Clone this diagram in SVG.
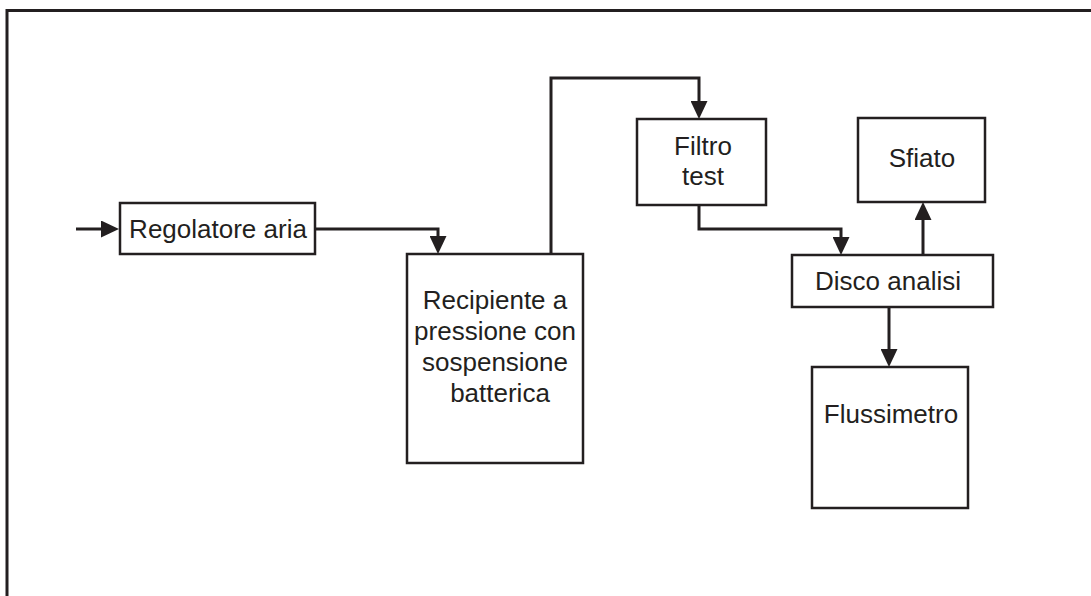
<svg xmlns="http://www.w3.org/2000/svg" width="1091" height="596" viewBox="0 0 1091 596">
<style>
.box{fill:#fff;stroke:#231f20;stroke-width:2.5}
.lbl{font-family:"Liberation Sans",Arial,sans-serif;font-size:26px;fill:#231f20;text-anchor:middle}
.con{fill:none;stroke:#231f20;stroke-width:3}
.frame{fill:none;stroke:#231f20;stroke-width:3}
</style>
<defs>
<marker id="ah" markerUnits="userSpaceOnUse" viewBox="0 0 18 17" refX="9" refY="8.5" markerWidth="18" markerHeight="17" orient="auto">
<path d="M0,0 L18,8.5 L0,17 z" fill="#231f20"/>
</marker>
</defs>
<rect width="1091" height="596" fill="#fff"/>
<path class="frame" d="M7,596 V10.5 H1091"/>
<g id="connectors">
<path class="con" d="M76,229 H110" marker-end="url(#ah)"/>
<path class="con" d="M315,229 H438 V245" marker-end="url(#ah)"/>
<path class="con" d="M551,254 V78 H699 V110" marker-end="url(#ah)"/>
<path class="con" d="M699,205 V229 H841 V246" marker-end="url(#ah)"/>
<path class="con" d="M923,255 V211" marker-end="url(#ah)"/>
<path class="con" d="M889,307 V358" marker-end="url(#ah)"/>
</g>
<g id="regolatore">
<rect class="box" x="120" y="203" width="195" height="51"/>
<text class="lbl" x="218" y="238">Regolatore aria</text>
</g>
<g id="recipiente">
<rect class="box" x="407" y="254" width="176" height="209"/>
<text class="lbl" x="495" y="309">Recipiente a</text>
<text class="lbl" x="495" y="340">pressione con</text>
<text class="lbl" x="495" y="371">sospensione</text>
<text class="lbl" x="500" y="402">batterica</text>
</g>
<g id="filtro">
<rect class="box" x="637" y="119" width="129" height="86"/>
<text class="lbl" x="703" y="155">Filtro</text>
<text class="lbl" x="703" y="185">test</text>
</g>
<g id="sfiato">
<rect class="box" x="858" y="118" width="127" height="84"/>
<text class="lbl" x="922" y="167">Sfiato</text>
</g>
<g id="disco">
<rect class="box" x="792" y="255" width="201" height="52"/>
<text class="lbl" x="888" y="290">Disco analisi</text>
</g>
<g id="flussimetro">
<rect class="box" x="812" y="367" width="156" height="141"/>
<text class="lbl" x="891" y="423">Flussimetro</text>
</g>
</svg>
